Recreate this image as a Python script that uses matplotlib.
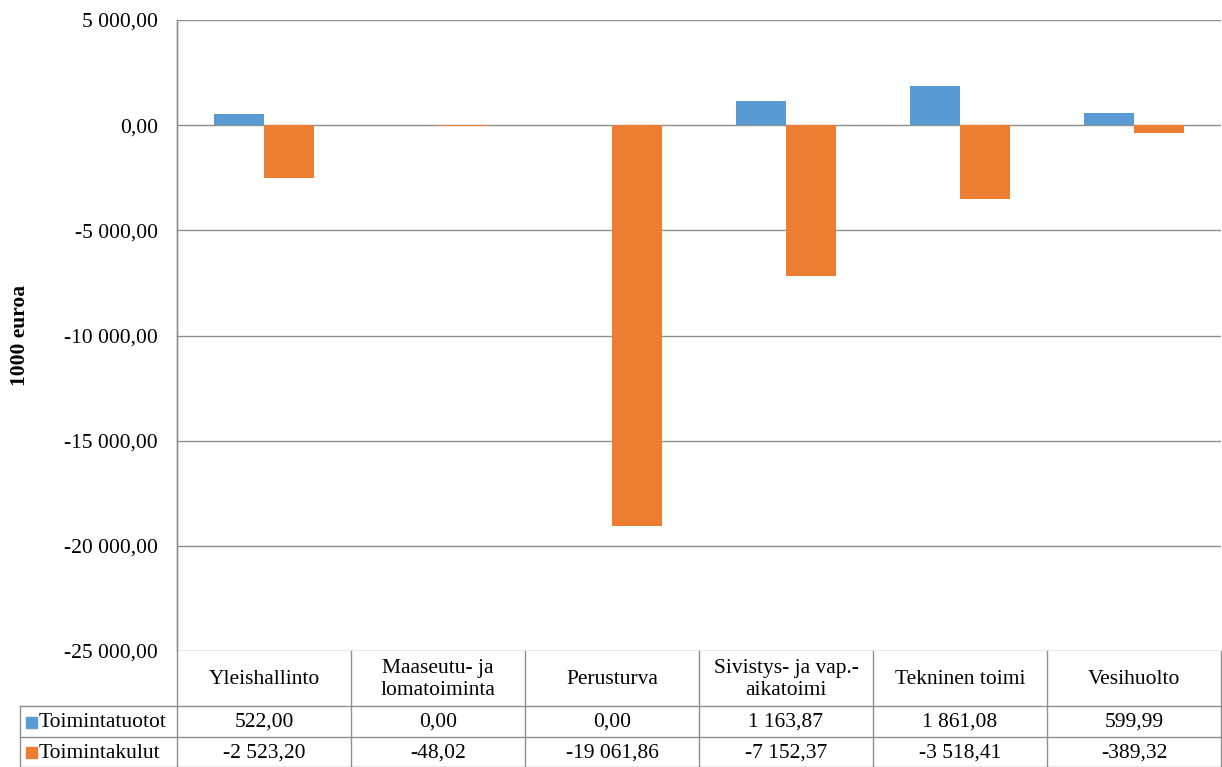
import matplotlib
matplotlib.use('Agg')
import matplotlib.pyplot as plt
from matplotlib.lines import Line2D
from matplotlib.patches import Rectangle
import numpy as np

plt.rcParams['font.family'] = ['Liberation Serif', 'DejaVu Serif']

categories = ['Yleishallinto', 'Maaseutu- ja\nlomatoiminta', 'Perusturva',
              'Sivistys- ja vap.-\naikatoimi', 'Tekninen toimi', 'Vesihuolto']
series_names = ['Toimintatuotot', 'Toimintakulut']
tuotot = [522.00, 0.00, 0.00, 1163.87, 1861.08, 599.99]
kulut = [-2523.20, -48.02, -19061.86, -7152.37, -3518.41, -389.32]
y_ticks = [5000, 0, -5000, -10000, -15000, -20000, -25000]
colors = ['#5B9BD5', '#ED7D31']
grid_col = '#8F8F8F'
fs = 15.5


def fmt(v):
    s = '{:,.2f}'.format(abs(v)).replace(',', ' ').replace('.', ',')
    return ('-' if v < 0 else '') + s


W, H = 1222, 767
fig = plt.figure(figsize=(W / 100, H / 100), dpi=100)

# pixel layout
px_l, px_r, px_t, px_b = 177, 1221, 20, 651
row1, row2, row3 = 706, 737, 767
lab_l = 20

ax = fig.add_axes([px_l / W, 1 - px_b / H, (px_r - px_l) / W, (px_b - px_t) / H])
x = np.arange(len(categories))
bw = 0.287
ax.bar(x - bw / 2, tuotot, bw, color=colors[0], zorder=3)
ax.bar(x + bw / 2, kulut, bw, color=colors[1], zorder=3)
ax.set_xlim(-0.5, len(categories) - 0.5)
ax.set_ylim(-25000, 5000)
ax.set_yticks(y_ticks)
ax.set_yticklabels([fmt(v) for v in y_ticks], fontsize=fs)
ax.set_xticks([])
ax.tick_params(axis='y', length=0, pad=13.7)
for v in y_ticks:
    ax.axhline(v, color=grid_col, lw=1.0, zorder=1)
for s in ['top', 'right', 'bottom']:
    ax.spines[s].set_visible(False)
ax.spines['left'].set_color(grid_col)
ax.spines['left'].set_linewidth(1.0)
ax.set_ylabel('1000 euroa', fontsize=fs, fontweight='bold')
ax.yaxis.set_label_coords(-(px_l - 20) / (px_r - px_l), 0.5)
ax.yaxis.label.set_va('center')

# data table drawn in figure pixel coordinates
tab = fig.add_axes([0, 0, 1, 1])
tab.set_xlim(0, W)
tab.set_ylim(H, 0)
tab.axis('off')
col_w = (px_r - px_l) / len(categories)
lk = dict(color=grid_col, lw=1.0)
tab.add_line(Line2D([lab_l, px_r], [row1, row1], **lk))
tab.add_line(Line2D([lab_l, px_r], [row2, row2], **lk))
tab.add_line(Line2D([lab_l, px_r], [row3 - 0.5, row3 - 0.5], **lk))
tab.add_line(Line2D([lab_l, lab_l], [row1, row3], **lk))
tab.add_line(Line2D([px_l, px_l], [px_t, row3], **lk))
for i in range(1, len(categories) + 1):
    xb = px_l + i * col_w
    tab.add_line(Line2D([xb, xb], [px_b, row3], **lk))

for i, c in enumerate(categories):
    xc = px_l + (i + 0.5) * col_w
    tab.text(xc, (px_b + row1) / 2 + 1, c, ha='center', va='center', fontsize=fs,
             linespacing=1.15)
    tab.text(xc, (row1 + row2) / 2 + 1, fmt(tuotot[i]), ha='center', va='center', fontsize=fs)
    tab.text(xc, (row2 + row3) / 2 + 1, fmt(kulut[i]), ha='center', va='center', fontsize=fs)

for j, (name, col) in enumerate(zip(series_names, colors)):
    yc = (row1 + row2) / 2 if j == 0 else (row2 + row3) / 2
    tab.add_patch(Rectangle((lab_l + 6, yc - 5), 11, 11, color=col))
    tab.text(lab_l + 19, yc + 1, name, ha='left', va='center', fontsize=fs)

fig.savefig('out.png', dpi=100)
